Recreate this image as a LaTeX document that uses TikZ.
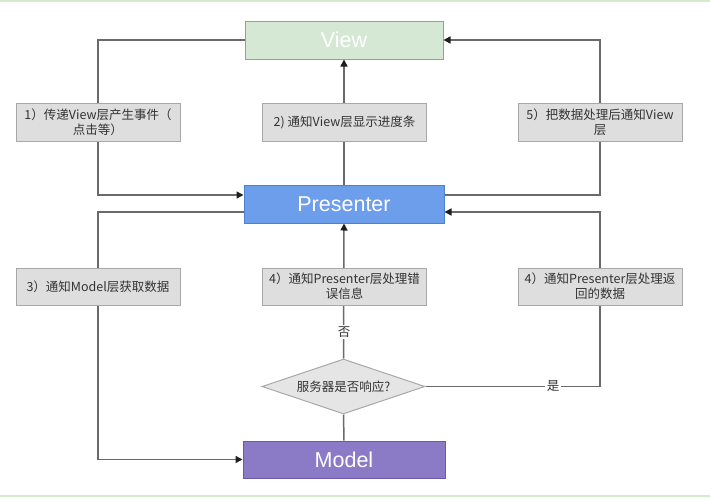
\documentclass[tikz,border=0pt]{standalone}
\usepackage{fontspec}
\setmainfont{Noto Sans CJK SC}
\newfontfamily\titlefont{Liberation Sans}
\usetikzlibrary{shapes.geometric,arrows.meta,calc,backgrounds}
\definecolor{viewfill}{HTML}{D5E8D4}
\definecolor{viewdraw}{HTML}{82B366}
\definecolor{presfill}{HTML}{6D9EEB}
\definecolor{presdraw}{HTML}{4F7FD0}
\definecolor{modfill}{HTML}{8B7BC6}
\definecolor{moddraw}{HTML}{6A58A8}
\definecolor{lblfill}{HTML}{DEDEDE}
\definecolor{lbldraw}{HTML}{A8A8A8}
\definecolor{linecol}{HTML}{6A6A6A}
\definecolor{tipcol}{HTML}{1E1E1E}
\definecolor{txtcol}{HTML}{333333}
\definecolor{greenline}{HTML}{D3EBC6}
\begin{document}
\begin{tikzpicture}[x=1pt,y=-1pt,
  title/.style={draw=#1draw, fill=#1fill, line width=1pt, minimum width=200pt, minimum height=38pt,
    inner sep=0pt, text=white, font=\titlefont\fontsize{21.5}{24}\selectfont},
  lbl/.style={draw=lbldraw, fill=lblfill, line width=1pt, minimum width=164pt, minimum height=38pt,
    inner sep=2pt, align=center, text=txtcol, font=\fontsize{12.5}{15}\selectfont},
  dec/.style={shape=diamond, aspect=3, draw=lbldraw, fill=lblfill!80!white, line width=1pt,
    minimum width=163pt, minimum height=55pt, inner sep=0pt, text=txtcol, font=\fontsize{12.5}{15}\selectfont},
  tag/.style={fill=white, inner sep=2pt, text=txtcol, font=\fontsize{12.5}{15}\selectfont},
  conn/.style={draw=linecol, line width=1.5pt},
  arr/.style={conn, -{Triangle[length=7pt,width=7pt,color=tipcol]}},
]
\useasboundingbox (0,0) rectangle (710,501);
\draw[greenline, line width=2pt] (0,1) -- (710,1);
\draw[greenline, line width=2pt] (0,496) -- (710,496);

\node[title=view, minimum width=198pt] (view) at (344,40) {View};
\node[title=pres] (pres) at (344,204) {Presenter};
\node[title=mod, minimum width=202pt, minimum height=37pt] (model) at (344,459.5) {Model};

\node[lbl] (l1) at (98,122) {1）传递View层产生事件（\\点击等）};
\node[lbl] (l2) at (344.5,122) {2) 通知View层显示进度条};
\node[lbl] (l5) at (600,122) {5）把数据处理后通知View\\层};
\node[lbl, minimum height=37pt] (l3) at (98,286.5) {3）通知Model层获取数据};
\node[lbl, minimum height=37pt] (l4a) at (344.5,286.5) {4）通知Presenter层处理错\\误信息};
\node[lbl, minimum height=37pt] (l4b) at (600,286.5) {4）通知Presenter层处理返\\回的数据};

\node[dec] (dia) at (343.5,386.5) {服务器是否响应?};

\begin{scope}[on background layer]
  \coordinate (pwu) at ($(pres.west)+(0,-9)$);
  \coordinate (pwd) at ($(pres.west)+(0,8)$);
  \coordinate (peu) at ($(pres.east)+(0,-9)$);
  \coordinate (ped) at ($(pres.east)+(0,8)$);
  \draw[arr] (view.west) -| (l1.center) |- (pwu);
  \draw[arr] (pres.north) -- (view.south);
  \draw[arr] (peu) -| (l5.center) |- (view.east);
  \draw[arr] (pwd) -| (l3.center) |- (model.west);
  \draw[arr] (dia.north) -- (pres.south);
  \draw[conn] (model.north) -- (dia.south);
  \draw[arr] (dia.east) -| (l4b.center) |- (ped);
\end{scope}

\node[tag] (no) at (344,332) {否};
\node[tag] (yes) at (553,386.5) {是};
\end{tikzpicture}
\end{document}
